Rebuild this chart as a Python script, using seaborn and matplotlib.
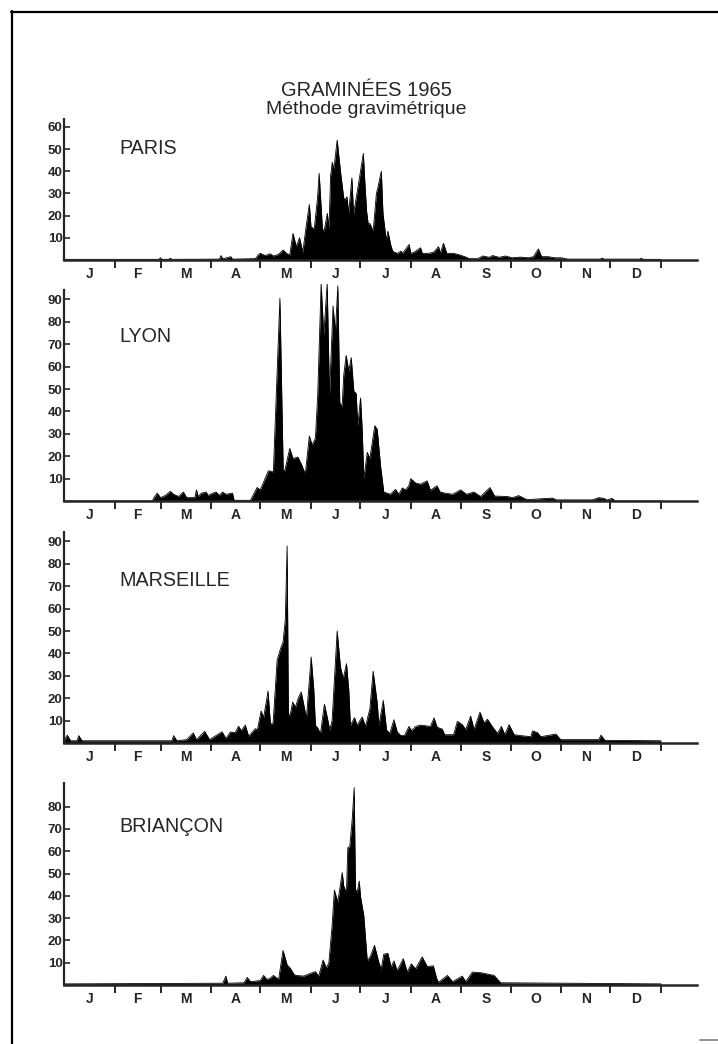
import numpy as np
import pandas as pd
import matplotlib
matplotlib.use("Agg")
import matplotlib.pyplot as plt
import seaborn as sns
from matplotlib.lines import Line2D

# month axis
month_labels = ['J', 'F', 'M', 'A', 'M', 'J', 'J', 'A', 'S', 'O', 'N', 'D']
month_starts = [0, 31, 59, 90, 120, 151, 181, 212, 243, 273, 304, 334, 365]

# pollen counts (day of year, value)
paris_days = [0, 58, 59, 60, 64, 65, 66, 95, 96, 97, 102, 103, 117, 119, 120, 123, 126, 128, 131, 134,
              136, 138, 140, 142, 144, 146, 148, 150, 151, 153, 155, 156, 158, 159, 161, 162, 163, 164,
              165, 167, 169, 171, 172, 173, 174, 176, 177, 178, 180, 183, 184, 185, 186, 187, 189, 191,
              192, 194, 195, 197, 198, 200, 201, 202, 204, 206, 207, 211, 212, 214, 218, 219, 223, 226,
              229, 230, 232, 234, 238, 241, 245, 248, 253, 256, 260, 262, 266, 270, 274, 279, 284, 287,
              290, 292, 296, 300, 304, 308, 328, 329, 330, 352, 353, 354, 365]
paris_vals = [0.3, 0.3, 1.0, 0.3, 0.3, 0.8, 0.3, 0.4, 2.0, 0.5, 1.5, 0.4, 0.6, 2.5, 3.0, 2.0, 2.8, 1.8, 2.5, 4.5,
              3.0, 2.2, 12, 6, 10, 3.5, 15, 25, 15, 14, 28, 39, 14, 13, 21, 14, 38, 44,
              41, 54, 40, 28, 27, 28.5, 21, 37, 21, 25, 34, 48, 34, 22, 16, 16.5, 13, 30,
              33, 40, 21, 9, 13, 6, 4, 3.5, 3, 4, 3, 7, 3, 3.5, 5.5, 3, 3, 3.5,
              6, 3, 7.5, 3, 3, 2.5, 1.5, 0.6, 0.6, 1.8, 1.2, 2.0, 1.2, 1.8, 1.0, 1.3, 1.0, 1.5,
              5.0, 1.5, 1.5, 1.0, 1.0, 0.4, 0.4, 0.9, 0.4, 0.4, 0.8, 0.3, 0.3]

lyon_days = [0, 54, 55, 57, 59, 62, 65, 67, 70, 73, 75, 80, 81, 82, 84, 87, 88, 91, 93, 95,
             97, 99, 103, 104, 114, 118, 120, 125, 128, 132, 134, 135, 138, 140, 143, 145.5, 147.5, 150,
             151.7, 153.7, 155.1, 157.2, 158.8, 160.9, 162.3, 164.5, 165.9, 167.4, 168.6, 170, 171, 172.5,
             174.1, 175.6, 177.2, 178.6, 179.6, 181.3, 182.3, 183.3, 185.4, 187, 190, 191.5, 193.5, 195.5,
             199.6, 202.7, 204.7, 206.8, 208.8, 210.8, 212, 215, 218, 222, 224, 228, 230, 233, 237.6,
             242.5, 246, 250.6, 254.7, 260.4, 263.3, 271, 274.3, 278, 283, 298.6, 301, 323, 327, 330,
             332, 335, 337, 365]
lyon_vals = [0, 0, 1.5, 3.5, 1.5, 2.5, 4.3, 3.0, 2.0, 4.0, 1.5, 1.5, 5.0, 2.0, 3.5, 4.0, 2.5, 3.5, 4.0, 2.5,
             4.0, 3.0, 3.5, 0.3, 0.3, 6.0, 5.0, 13.5, 13.0, 90.5, 14, 13.5, 23.5, 19, 19.6, 15.8, 12, 29,
             25, 28, 47, 97, 74, 97, 47, 87, 75, 96, 44, 42, 56, 65,
             58, 64, 49, 48, 33.6, 46, 32, 10, 21.7, 19, 33.6, 32, 15.8, 4,
             3, 5.2, 3, 5.8, 5, 6.8, 10, 8, 7.5, 9, 4.8, 6.8, 4, 3.5, 3,
             5, 3, 4, 2, 6, 2.2, 2, 1.5, 2.4, 0.6, 1.3, 0.5, 0.5, 1.5, 1.2,
             0.4, 1.2, 0, 0]

marseille_days = [0, 2, 4, 8, 9, 11, 66, 67, 69, 75, 79, 81, 86, 89, 96.6, 99, 101.7, 104.7, 106.7, 108.4,
                  110.8, 112.9, 117, 118.2, 120.5, 122, 124.1, 124.7, 126.2, 127.8, 130.3, 132.3, 133.9,
                  135.3, 136.4, 137.2, 138.4, 139.8, 141.5, 143.1, 145, 146.5, 148.2, 151.1, 152.7, 153.7,
                  155.1, 156.8, 159.2, 160.9, 162.5, 163.9, 166, 167, 169, 170.7, 172.7, 174.1, 175.1,
                  177.6, 179.2, 182.3, 184.3, 187, 189, 191.5, 192.5, 195.2, 197.2, 199.2, 201.7, 203.7,
                  205.8, 208.2, 210.9, 212.5, 215, 218, 224, 226.2, 228.2, 231.3, 232.7, 238.2, 240.5,
                  243.5, 245.6, 248.6, 250.7, 254.3, 256.8, 258.9, 261.9, 265, 267.4, 269.5, 272.1, 275.2,
                  279.3, 285.4, 286.4, 289.5, 291.5, 300.7, 303.7, 327, 328.3, 330.7, 365]
marseille_vals = [1.0, 3.5, 1.0, 1.0, 3.3, 1.0, 1.0, 3.3, 1.0, 1.5, 4.5, 1.5, 5.2, 1.5, 5.0, 2.0, 4.9, 4.6, 7.5, 5.5,
                  8.0, 3.0, 6.4, 5.8, 14.3, 11.3, 20.2, 23.2, 8.6, 8.6, 37, 42, 45,
                  55, 88, 12.4, 13, 18.3, 16, 19.8, 22.8, 17.4, 11, 38.4, 24, 7.9,
                  6.7, 4.2, 17.3, 11.6, 5.8, 10, 37, 50, 34, 28.7, 35.4, 23.6, 7.9,
                  11.3, 7.9, 11.6, 7.4, 15.3, 32, 17.8, 7.9, 19, 5.8, 4.3, 10.4, 5,
                  3.4, 3.4, 7.4, 5.5, 7.4, 8, 7.4, 11.2, 7, 6.2, 3.7, 3.7, 9.7,
                  8.2, 6, 12, 6, 13.8, 9, 10.6, 7.3, 4.3, 7.4, 3.7, 8.2, 3.7,
                  3.3, 2.8, 5.4, 4.6, 2.8, 4, 1.5, 1.5, 3.5, 1.2, 1.0]

briancon_days = [0, 97, 99, 100, 110, 112, 114, 120, 122, 124, 126, 128, 131.2, 133.9, 136.4, 138.4, 140.4,
                 141.5, 146.5, 150.7, 153.7, 155.7, 158.4, 160.4, 161.9, 163.9, 165.3, 167.4, 170.1, 171,
                 172.7, 173.5, 174.7, 176.2, 177.4, 178.2, 179.2, 180.5, 181.3, 183.3, 185.4, 187.4, 189.8,
                 192.5, 193.9, 195.5, 198, 200, 201.7, 203.7, 207.4, 209.9, 212.3, 214.9, 219, 222.1, 225.8,
                 227.8, 229, 234.4, 237.6, 243.5, 245.6, 249.7, 254.8, 262.9, 267, 365]
briancon_vals = [0.5, 0.8, 4.0, 0.8, 1.0, 3.4, 1.5, 2.0, 4.3, 2.5, 3.0, 4.3, 2.5, 15.5, 9, 7.5, 5,
                 4.3, 4, 5.2, 6, 4, 11.2, 7.6, 9.9, 26.5, 42.5, 37.2, 50.4, 44.4,
                 41.4, 61.6, 62, 74.3, 88.5, 43, 41.4, 46.6, 39.6, 31, 10.8, 13, 17.8,
                 10.1, 7.1, 13.8, 14.2, 8, 10.8, 6.4, 11.8, 5.8, 9.5, 7.3, 12.6, 8.3, 8.6,
                 3, 1.2, 4.3, 1.5, 4, 1.5, 5.8, 5.5, 4.3, 1.0, 0.5]

sns.set_style("ticks")
plt.rcParams['font.family'] = ['Liberation Sans', 'DejaVu Sans']

W, H = 718, 1044
fig = plt.figure(figsize=(W / 100, H / 100), dpi=100)

# name, days, values, y ticks, baseline px, px per unit, ylim top, spine top, label y px
panels = [
    ("PARIS", paris_days, paris_vals, [10, 20, 30, 40, 50, 60], 260, 2.22, 63.5, 63.5, 149),
    ("LYON", lyon_days, lyon_vals, list(range(10, 100, 10)), 501, 2.24, 97, 94, 336),
    ("MARSEILLE", marseille_days, marseille_vals, list(range(10, 100, 10)), 743, 2.24, 94, 94, 580),
    ("BRIANÇON", briancon_days, briancon_vals, list(range(10, 90, 10)), 985, 2.23, 90.5, 90.5, 826),
]

mids = [(a + b) / 2 for a, b in zip(month_starts[:-1], month_starts[1:])]

for name, days, vals, yt, base_px, ppu, ymax, spine_top, label_y in panels:
    top_px = base_px - ymax * ppu
    ax = fig.add_axes([64 / W, 1 - base_px / H, (697 - 64) / W, (base_px - top_px) / H])
    df = pd.DataFrame({'day': days, 'val': vals})
    sns.lineplot(data=df, x='day', y='val', ax=ax, color='black', lw=0.6)
    ax.fill_between(df['day'], 0, df['val'], color='black', lw=0)
    ax.set_xlim(0, 387)
    ax.set_ylim(0, ymax)
    sns.despine(ax=ax)
    ax.spines['left'].set_bounds(0, spine_top)
    ax.spines['left'].set_linewidth(1.6)
    ax.spines['bottom'].set_linewidth(1.8)

    ax.set_yticks(yt)
    ax.set_yticklabels([str(v) for v in yt], fontweight='bold', fontsize=9.5)
    ax.tick_params(axis='y', direction='in', length=4, width=1.2, pad=1)

    ax.set_xticks(month_starts[1:])
    ax.set_xticklabels([])
    ax.set_xticks(mids, minor=True)
    ax.set_xticklabels(month_labels, minor=True, fontweight='bold', fontsize=10)
    ax.tick_params(axis='x', which='major', direction='out', length=6, width=1.4)
    ax.tick_params(axis='x', which='minor', length=0, pad=5)
    ax.set_xlabel('')
    ax.set_ylabel('')

    fig.text(119 / W, 1 - label_y / H, name, fontsize=14.2, va='center', ha='left')

fig.text(366 / W, 1 - 90 / H, 'GRAMINÉES 1965', ha='center', va='center', fontsize=14.5)
fig.text(366 / W, 1 - 109 / H, 'Méthode gravimétrique', ha='center', va='center', fontsize=14)

# page frame
fig.add_artist(Line2D([12 / W, 12 / W], [1 - 11 / H, 0], transform=fig.transFigure, color='black', lw=1.6))
fig.add_artist(Line2D([11 / W, 1], [1 - 12 / H, 1 - 12 / H], transform=fig.transFigure, color='black', lw=1.6))
fig.add_artist(Line2D([700 / W, 1], [1 - 1040 / H, 1 - 1040 / H], transform=fig.transFigure, color='gray', lw=1.2))

fig.savefig('out.png', dpi=100)
